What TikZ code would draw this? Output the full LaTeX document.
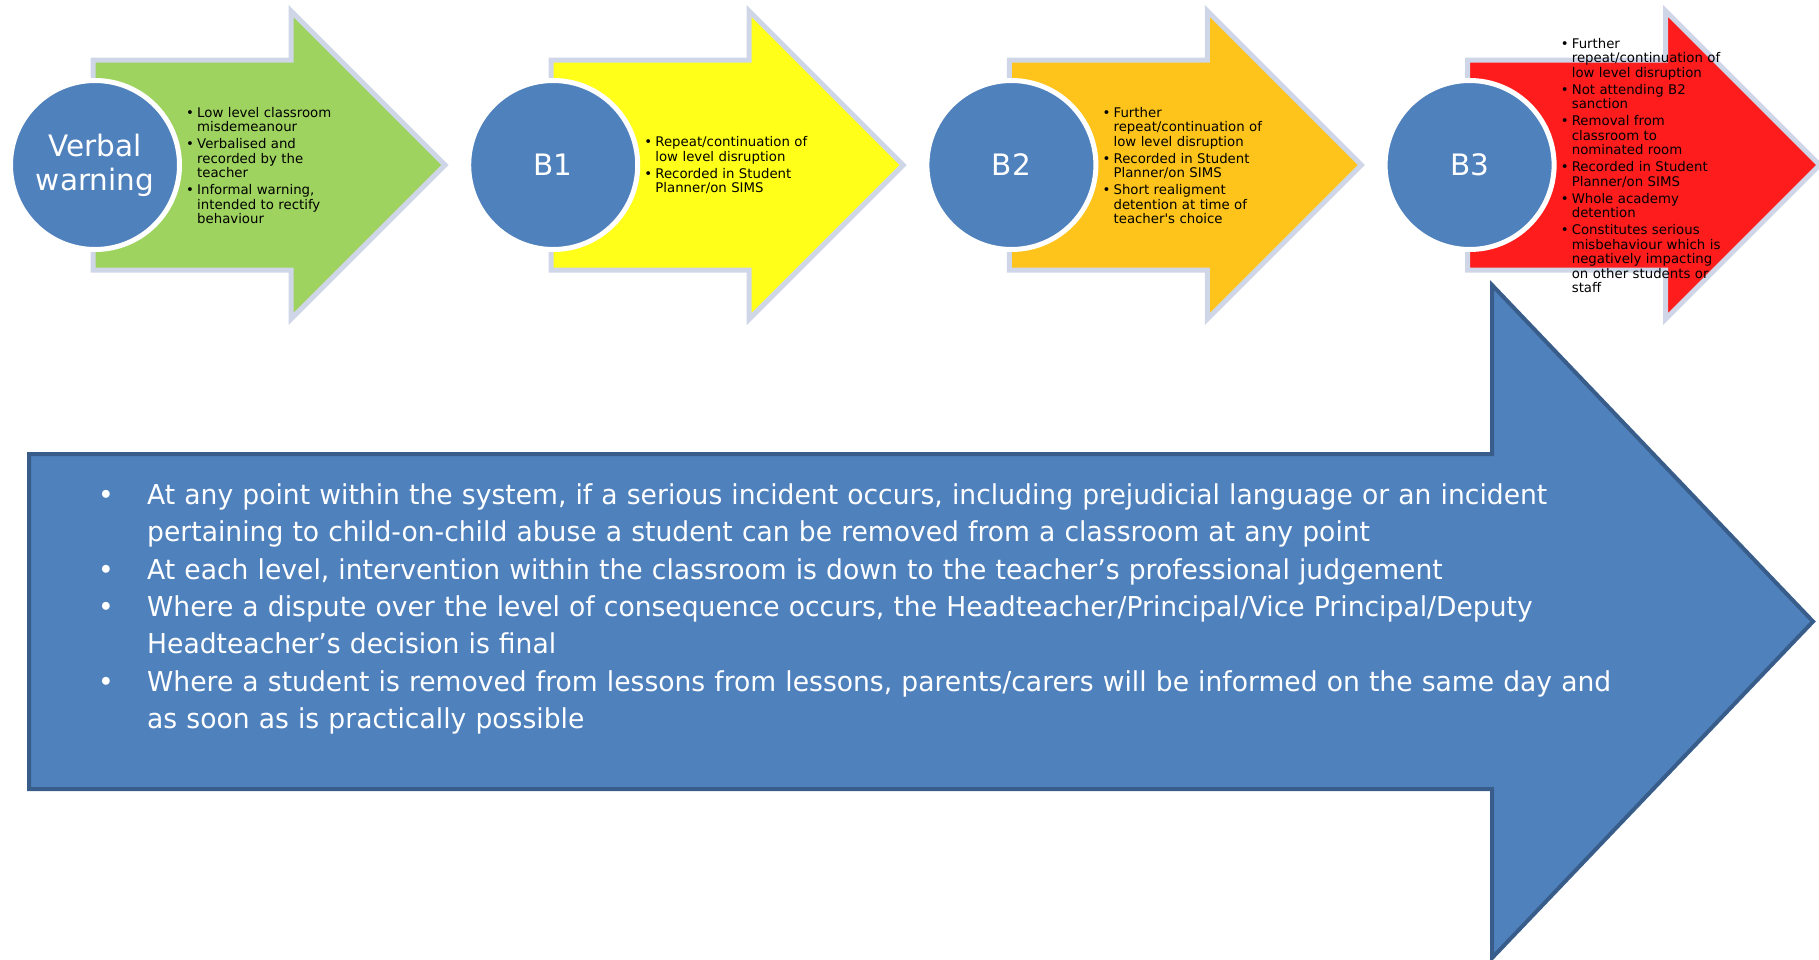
\documentclass[tikz,border=0pt]{standalone}
\usepackage{fontspec}
\setmainfont{DejaVu Sans}
\newfontfamily\slimfont[FakeStretch=0.97]{DejaVu Sans}
\definecolor{bluefill}{RGB}{79,129,189}
\definecolor{blueedge}{RGB}{56,93,138}
\definecolor{rimcol}{RGB}{206,214,232}
\definecolor{stgreen}{RGB}{158,211,95}
\definecolor{styellow}{RGB}{255,255,26}
\definecolor{storange}{RGB}{254,196,28}
\definecolor{stred}{RGB}{255,28,28}
% one bullet, hanging indent #1
\newcommand{\bul}[2]{\par\hangindent=#1\hangafter=1\noindent\makebox[#1][l]{\textbullet}#2\par}
\newcommand{\txtVW}{\bul{11pt}{Low level classroom\newline misdemeanour}%
  \bul{11pt}{Verbalised and\newline recorded by the\newline teacher}%
  \bul{11pt}{Informal warning,\newline intended to rectify\newline behaviour}}
\newcommand{\txtBone}{\bul{11pt}{Repeat/continuation of\newline low level disruption}%
  \bul{11pt}{Recorded in Student\newline Planner/on SIMS}}
\newcommand{\txtBtwo}{\bul{11pt}{Further\newline repeat/continuation of\newline low level disruption}%
  \bul{11pt}{Recorded in Student\newline Planner/on SIMS}%
  \bul{11pt}{Short realigment\newline detention at time of\newline teacher\textquotesingle s choice}}
\newcommand{\txtBthree}{\bul{11pt}{Further\newline repeat/continuation of\newline low level disruption}%
  \bul{11pt}{Not attending B2\newline sanction}%
  \bul{11pt}{Removal from\newline classroom to\newline nominated room}%
  \bul{11pt}{Recorded in Student\newline Planner/on SIMS}%
  \bul{11pt}{Whole academy\newline detention}%
  \bul{11pt}{Constitutes serious\newline misbehaviour which is\newline negatively impacting\newline on other students or\newline staff}}
\begin{document}
\begin{tikzpicture}[x=1pt,y=-1pt,line join=miter,
    stagearrow/.style={draw=rimcol,line width=5pt},
    stagecircle/.style={circle,fill=bluefill,draw=white,line width=5pt,minimum size=169pt,
      inner sep=0pt,text=white,align=center,font=\fontsize{29.5}{34}\selectfont},
    stagetext/.style={inner sep=0pt,text width=185pt,
      font=\fontsize{13.3}{14.5}\selectfont\setlength{\parskip}{2.5pt}},
    bigarrow/.style={fill=bluefill,draw=blueedge,line width=4pt},
    bigtext/.style={inner sep=0pt,text width=1700pt,text=white,
      font=\slimfont\fontsize{27.4}{37.3}\selectfont}]
    \useasboundingbox (0,0) rectangle (1819,959);
    % the four stages
    \foreach \i/\col/\lab/\txt in {0/stgreen/{Verbal\\warning}/\txtVW,1/styellow/B1/\txtBone,
        2/storange/B2/\txtBtwo,3/stred/B3/\txtBthree}
    {
        \draw[stagearrow,fill=\col,shift={(95+458.2*\i,165)}]
            (-2,-105) -- (196,-105) -- (196,-154) -- (350,0) -- (196,154) -- (196,105) -- (-2,105) -- cycle;
        \node[stagecircle] (circ\i) at (95+458.2*\i,165) {\lab};
        \node[stagetext,anchor=west] (txt\i) at (95+458.2*\i+91,162) {\txt};
    }
    % the big arrow at the bottom
    \draw[bigarrow] (29,454) -- (1492,454) -- (1492,285) -- (1813,621.5) -- (1492,958) -- (1492,789) -- (29,789) -- cycle;
    \node[bigtext,anchor=north west] (notes) at (98,467) {%
        \bul{49pt}{At any point within the system, if a serious incident occurs, including prejudicial language or an incident\newline pertaining to child-on-child abuse a student can be removed from a classroom at any point}%
        \bul{49pt}{At each level, intervention within the classroom is down to the teacher’s professional judgement}%
        \bul{49pt}{Where a dispute over the level of consequence occurs, the Headteacher/Principal/Vice Principal/Deputy\newline Headteacher’s decision is final}%
        \bul{49pt}{Where a student is removed from lessons from lessons, parents/carers will be informed on the same day and\newline as soon as is practically possible}};
\end{tikzpicture}
\end{document}
